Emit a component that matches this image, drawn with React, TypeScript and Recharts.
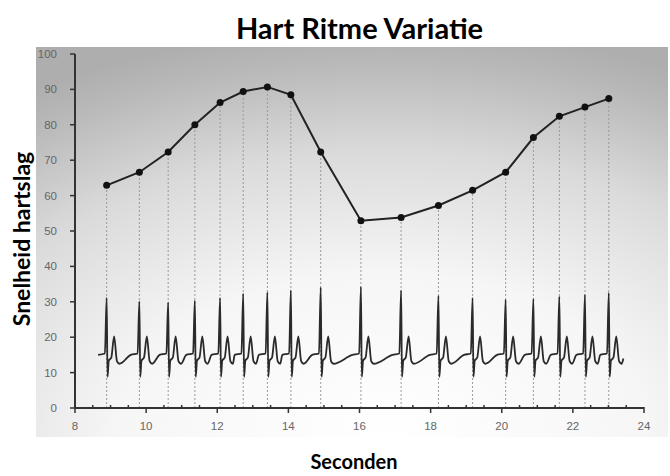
import { LineChart, Line, XAxis, YAxis, ReferenceLine } from 'recharts';

const BEAT_TIMES = [8.89, 9.81, 10.62, 11.37, 12.08, 12.73, 13.41, 14.07, 14.91, 16.04, 17.17, 18.22, 19.18, 20.11, 20.89, 21.62, 22.34, 23.01];
const HEART_RATE = [62.9, 66.6, 72.3, 80.0, 86.3, 89.4, 90.7, 88.5, 72.3, 52.9, 53.8, 57.2, 61.5, 66.6, 76.4, 82.4, 85.0, 87.4];

// ECG trace: R-peak height per beat, plus the shape around each beat (offset s, value)
const R_PEAKS = [31.1, 30.1, 29.8, 30.3, 31.1, 32.3, 32.7, 33.2, 34.1, 34.2, 33.2, 31.7, 31.1, 30.6, 30.8, 31.5, 32.0, 32.5];
const ECG_BEFORE: [number, number][] = [[-0.24, 15.0], [-0.05, 15.4]];
const ECG_AFTER: [number, number][] = [[0.025, 8.8], [0.06, 13.4], [0.13, 14.2], [0.21, 20.2], [0.29, 13.2], [0.36, 12.5]];
const ECG_END: [number, number] = [23.42, 14.0];

const X_LABELS = [8, 10, 12, 14, 16, 18, 20, 22, 24];
const X_MINOR = [8.5, 9, 9.5, 10.5, 11, 11.5, 12.5, 13, 13.5, 14.5, 15, 15.5, 16.5, 17, 17.5, 18.5, 19, 19.5, 20.5, 21, 21.5, 22.5, 23, 23.5];
const Y_TICKS = [0, 10, 20, 30, 40, 50, 60, 70, 80, 90, 100];

const hrData = BEAT_TIMES.map((t, i) => ({ t, hr: HEART_RATE[i] }));

const ecgData: { t: number; v: number }[] = [];
BEAT_TIMES.forEach((t, i) => {
  ECG_BEFORE.forEach(([dt, v]) => ecgData.push({ t: t + dt, v }));
  ecgData.push({ t, v: R_PEAKS[i] });
  ECG_AFTER.forEach(([dt, v]) => ecgData.push({ t: t + dt, v }));
});
ecgData.push({ t: ECG_END[0], v: ECG_END[1] });

const XTick = ({ x, y, payload }: any) => {
  const major = X_LABELS.includes(payload.value);
  return (
    <g>
      <line x1={x} x2={x} y1={major ? y - 1 : y - 3} y2={major ? y + 5 : y} stroke="#333" strokeWidth={1.5} />
      {major && (
        <text x={x} y={y + 22} textAnchor="middle" fontSize={11.5} fill="#666" fontFamily="Liberation Sans">
          {payload.value}
        </text>
      )}
    </g>
  );
};

export default function App() {
  return (
    <div style={{ position: 'absolute', left: 0, top: 0, width: 670, height: 476, background: '#fff' }}>
      <svg width={670} height={476} style={{ position: 'absolute', left: 0, top: 0 }}>
        <defs>
          <radialGradient id="bg" cx="0.55" cy="1" r="1.05">
            <stop offset="0" stopColor="#ffffff" />
            <stop offset="0.4" stopColor="#f6f6f6" />
            <stop offset="0.7" stopColor="#dadada" />
            <stop offset="0.92" stopColor="#b8b8b8" />
            <stop offset="1" stopColor="#aeaeae" />
          </radialGradient>
        </defs>
        <rect x={36} y={47} width={632} height={390} fill="url(#bg)" />
        <text x={359.5} y={39} textAnchor="middle" fontSize={29} fontWeight="bold" fontFamily="Lato" fill="#000">
          Hart Ritme Variatie
        </text>
        <text x={354} y={469} textAnchor="middle" fontSize={20} fontWeight="bold" fontFamily="Lato" fill="#000">
          Seconden
        </text>
        <text
          transform="translate(30 239) rotate(-90)"
          textAnchor="middle"
          fontSize={23}
          fontWeight="bold"
          fontFamily="Lato"
          fill="#000"
        >
          Snelheid hartslag
        </text>
      </svg>
      <div style={{ position: 'absolute', left: 0, top: 0 }}>
        <LineChart width={670} height={476} margin={{ top: 54, right: 26, bottom: 38, left: 0 }}>
          <XAxis
            type="number"
            dataKey="t"
            domain={[8, 24]}
            ticks={[...X_LABELS, ...X_MINOR].sort((a, b) => a - b)}
            interval={0}
            height={30}
            tickSize={0}
            tickMargin={0}
            tickLine={false}
            tick={<XTick />}
            axisLine={{ stroke: '#333', strokeWidth: 2 }}
            allowDataOverflow
          />
          <YAxis
            type="number"
            domain={[0, 100]}
            ticks={Y_TICKS}
            interval={0}
            width={75}
            tickSize={5}
            tickMargin={13}
            tick={{ fontSize: 11.5, fill: '#666', fontFamily: 'Liberation Sans' }}
            tickLine={{ stroke: '#333', strokeWidth: 1.5 }}
            axisLine={{ stroke: '#333', strokeWidth: 2 }}
          />
          {hrData.map((d) => (
            <ReferenceLine
              key={d.t}
              segment={[{ x: d.t, y: 0 }, { x: d.t, y: d.hr }]}
              stroke="#9a9a9a"
              strokeWidth={1}
              strokeDasharray="2 2"
            />
          ))}
          <Line
            data={ecgData}
            dataKey="v"
            type="monotone"
            stroke="#2a2a2a"
            strokeWidth={1.8}
            dot={false}
            isAnimationActive={false}
          />
          <Line
            data={hrData}
            dataKey="hr"
            type="linear"
            stroke="#222"
            strokeWidth={2}
            dot={{ r: 3.5, fill: '#111', stroke: 'none' }}
            isAnimationActive={false}
          />
        </LineChart>
      </div>
    </div>
  );
}
